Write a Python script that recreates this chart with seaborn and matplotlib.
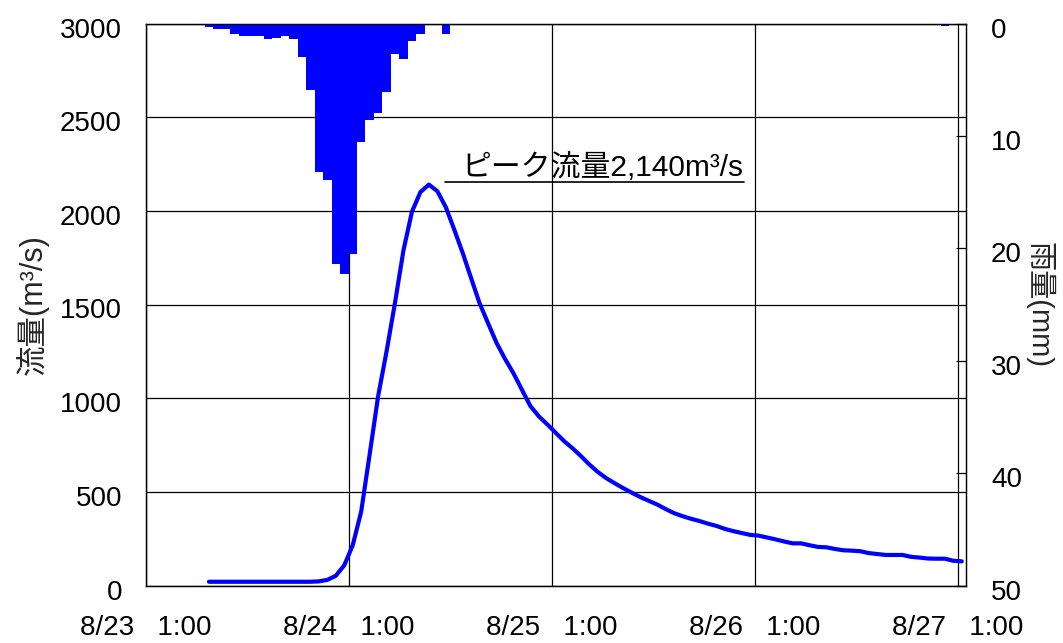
import numpy as np
import pandas as pd
import matplotlib
matplotlib.use("Agg")
import matplotlib.pyplot as plt
import matplotlib.transforms as mtransforms
import seaborn as sns

# ---------------- data ----------------
# time axis: hours since 8/23 1:00
flow_start_hour = 7          # first hourly flow value (plotted at mid-hour)
flow = [20, 20, 20, 20, 20, 20, 20, 20, 20, 20, 20, 20, 20,      # k=7..19
        22, 30, 52, 108, 215, 395, 700, 1010, 1250, 1510, 1790,   # k=20..30
        1995, 2100, 2140, 2105, 2020, 1900, 1775, 1640, 1506,     # k=31..39
        1400, 1295, 1210, 1133, 1045, 958, 903, 860, 815, 770,    # k=40..49
        732, 690, 645, 605, 572, 545, 519, 495, 472, 452,         # k=50..59
        432, 408, 386, 370, 356, 344, 330, 318, 302, 290,         # k=60..69
        280, 270, 266, 256, 246, 235, 225, 225, 215, 206,         # k=70..79
        204, 195, 188, 186, 183, 173, 168, 163, 163, 163,         # k=80..89
        153, 149, 144, 143, 143, 132, 129]                        # k=90..96

rain_start_hour = 7
rain = [0.3, 0.5, 0.5, 0.9, 1.1, 1.1, 1.1, 1.4, 1.3, 1.1, 1.4, 3.0, 5.9,
        13.2, 13.9, 21.4, 22.3, 20.5, 10.5, 8.6, 8.0, 6.1, 2.7, 3.2, 1.6,
        0.9, 0.1, 0.1, 0.9]
late_rain_hour = [94]
late_rain = [0.2]

xtick_hours = [0, 24, 48, 72, 96]
xtick_labels = ["8/23   1:00", "8/24   1:00", "8/25   1:00", "8/26   1:00", "8/27   1:00"]
flow_ticks = [0, 500, 1000, 1500, 2000, 2500, 3000]
rain_ticks = [0, 10, 20, 30, 40, 50]
peak_label = "ピーク流量2,140m³/s"
flow_label = "流量(m³/s)"
rain_label = "雨量(mm)"

# ---------------- frames ----------------
flow_df = pd.DataFrame({"hour": np.arange(len(flow)) + flow_start_hour + 0.5,
                        "flow": flow})
rain_hours = list(np.arange(len(rain)) + rain_start_hour) + late_rain_hour
rain_vals = rain + late_rain

# ---------------- style ----------------
sns.set_theme(style="white")
plt.rcParams["font.family"] = ["Liberation Sans", "Noto Sans CJK JP", "DejaVu Sans"]
plt.rcParams["axes.unicode_minus"] = False

fig = plt.figure(figsize=(10.63, 6.43), dpi=100)
ax = fig.add_axes([145.5 / 1063, 1 - 585.5 / 643, (966 - 145.5) / 1063, (585.5 - 23.5) / 643])
ax2 = ax.twinx()

blue = "#0000FF"

# flow line
sns.lineplot(data=flow_df, x="hour", y="flow", ax=ax, color=blue, linewidth=3.0,
             solid_capstyle="round", solid_joinstyle="round", legend=False)

# rain bars (inverted right axis)
ax2.bar(rain_hours, rain_vals, width=1.0, align="edge", color=blue, linewidth=0)

ax.set_xlim(0, 97)
ax.set_ylim(0, 3000)
ax2.set_ylim(50, 0)

ax.set_xticks(xtick_hours)
ax.set_xticklabels(xtick_labels)
ax.set_yticks(flow_ticks)
ax2.set_yticks(rain_ticks)

ax.grid(True, color="black", linewidth=0.9)
ax.set_axisbelow(True)

for a in (ax, ax2):
    for s in a.spines.values():
        s.set_color("black")
        s.set_linewidth(0.9)

ax.tick_params(axis="x", length=0, pad=21.5, labelsize=20, colors="black")
ax.tick_params(axis="y", length=0, pad=17, labelsize=20, colors="black")
ax2.tick_params(axis="y", direction="in", length=7, width=0.9, pad=18,
                labelsize=20, colors="black")

# shift y tick labels slightly downward as in the reference
shift = mtransforms.ScaledTranslation(0, -4 / 100, fig.dpi_scale_trans)
for lab in ax.get_yticklabels() + ax2.get_yticklabels():
    lab.set_transform(lab.get_transform() + shift)

ax.set_xlabel("")
ax.set_ylabel(flow_label, fontsize=22, labelpad=8)
ax2.set_ylabel(rain_label, fontsize=21, rotation=-90, labelpad=23)

# peak annotation
ax.text(37.35, 2186, peak_label, fontsize=21.5, ha="left", va="baseline", color="black")
ax.plot([35.4, 70.8], [2152, 2152], color="black", linewidth=1.2)

fig.savefig("out.png", dpi=100)
